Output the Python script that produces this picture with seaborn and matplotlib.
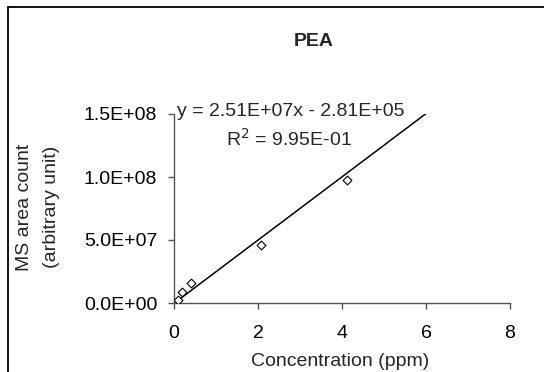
import matplotlib
matplotlib.use("Agg")
import matplotlib.pyplot as plt
import seaborn as sns
import pandas as pd
import numpy as np
from matplotlib.lines import Line2D

# Data
concentration = [0.10, 0.20, 0.40, 2.06, 4.12]
area_count = [2.1e6, 8.7e6, 1.6e7, 4.64e7, 9.73e7]
slope = 2.51e7
intercept = -2.81e5
fit_range = [0.08, 6.0]
x_ticks = [0, 2, 4, 6, 8]
y_ticks = [0.0, 5.0e7, 1.0e8, 1.5e8]
y_tick_labels = ["0.0E+00", "5.0E+07", "1.0E+08", "1.5E+08"]

sns.set_style("ticks")
plt.rcParams['font.family'] = ['Liberation Sans', 'DejaVu Sans']

FS = 14
W, H = 544, 372
fig = plt.figure(figsize=(W / 100, H / 100), dpi=100)
fig.patch.set_facecolor("white")

# outer frame (partly cropped)
fig.add_artist(Line2D([8 / W, 8 / W], [0, 1 - 7 / H], transform=fig.transFigure, color="black", lw=1.3))
fig.add_artist(Line2D([8 / W, 1], [1 - 7 / H, 1 - 7 / H], transform=fig.transFigure, color="black", lw=1.3))

left, right = 174 / W, 510 / W
bottom, top = 1 - 303 / H, 1 - 114 / H
ax = fig.add_axes([left, bottom, right - left, top - bottom])
ax.set_facecolor("white")

df = pd.DataFrame({"x": concentration, "y": area_count})
fit_df = pd.DataFrame({"x": fit_range, "y": [slope * v + intercept for v in fit_range]})

sns.lineplot(data=fit_df, x="x", y="y", ax=ax, color="black", lw=1.1)
sns.scatterplot(data=df, x="x", y="y", ax=ax, marker="D", s=20,
                facecolor="white", edgecolor="black", linewidth=0.8, zorder=5)

ax.set_xlim(0, 8)
ax.set_ylim(0, 1.5e8)
ax.set_xticks(x_ticks)
ax.set_xticklabels([str(t) for t in x_ticks])
ax.set_yticks(y_ticks)
ax.set_yticklabels(y_tick_labels)

for s in ["top", "right"]:
    ax.spines[s].set_visible(False)
for s in ["left", "bottom"]:
    ax.spines[s].set_color("#555555")
    ax.spines[s].set_linewidth(1.0)

ax.tick_params(axis="both", direction="out", length=4.5, width=1.0, color="#555555",
               labelsize=FS, labelcolor="black")
ax.tick_params(axis="x", pad=11)
ax.tick_params(axis="y", pad=7.5)

ax.set_xlabel("")
ax.set_ylabel("")

fig.text(340 / W, 1 - 362 / H, "Concentration (ppm)", ha="center", va="center", fontsize=FS)
fig.text(314 / W, 1 - 42 / H, "PEA", ha="center", va="center", fontsize=FS, fontweight="bold")
fig.text(25 / W, 1 - 207 / H, "MS area count", ha="center", va="center", rotation=90, fontsize=FS)
fig.text(52 / W, 1 - 207 / H, "(arbitrary unit)", ha="center", va="center", rotation=90, fontsize=FS)
fig.text(177 / W, 1 - 112 / H, "y = 2.51E+07x - 2.81E+05", ha="left", va="center", fontsize=FS)
fig.text(289 / W, 1 - 139 / H, "R$^2$ = 9.95E-01", ha="center", va="center", fontsize=FS)

fig.savefig("out.png", dpi=100, facecolor="white")
